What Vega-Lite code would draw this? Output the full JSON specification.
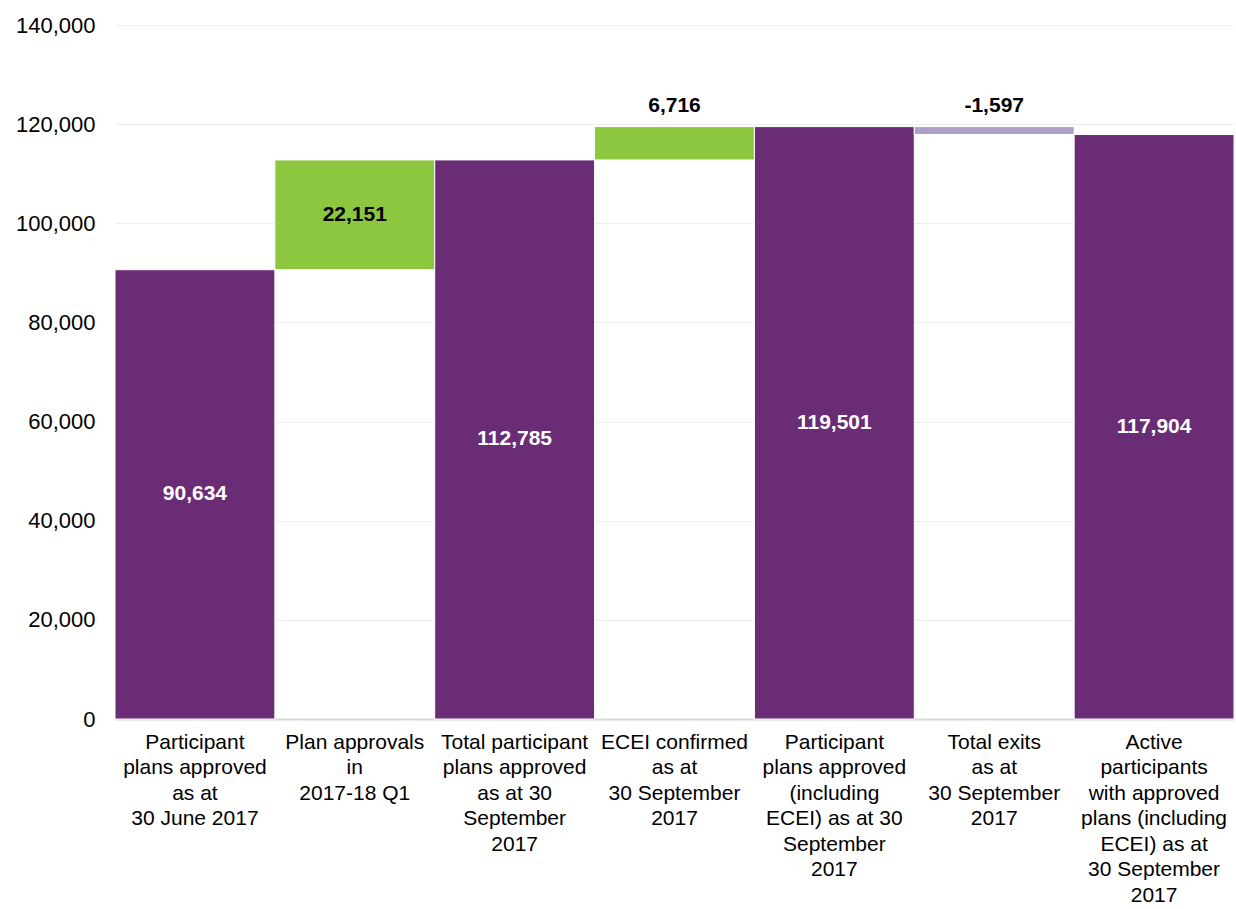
{
  "$schema": "https://vega.github.io/schema/vega-lite/v6.json",
  "autosize": {"type": "none"},
  "padding": {"left": 115, "top": 25, "right": 2, "bottom": 190},
  "width": 1119,
  "height": 694,
  "background": "white",
  "config": {
    "view": {"stroke": null},
    "font": "Liberation Sans",
    "axisY": {
      "title": null,
      "format": ",d",
      "labelFontSize": 22,
      "labelColor": "#000000",
      "labelPadding": 20,
      "ticks": false,
      "domain": false,
      "gridColor": "#eeeeee",
      "gridWidth": 1,
      "labelFont": "Liberation Sans"
    }
  },
  "data": {
    "values": [
      {"cat": "Participant\nplans approved\nas at\n30 June 2017", "start": 0, "end": 90634, "type": "total", "value": 90634},
      {"cat": "Plan approvals\nin\n2017-18 Q1", "start": 90634, "end": 112785, "type": "increase", "value": 22151},
      {"cat": "Total participant\nplans approved\nas at 30\nSeptember\n2017", "start": 0, "end": 112785, "type": "total", "value": 112785},
      {"cat": "ECEI confirmed\nas at\n30 September\n2017", "start": 112785, "end": 119501, "type": "increase", "value": 6716},
      {"cat": "Participant\nplans approved\n(including\nECEI) as at 30\nSeptember\n2017", "start": 0, "end": 119501, "type": "total", "value": 119501},
      {"cat": "Total exits\nas at\n30 September\n2017", "start": 119501, "end": 117904, "type": "decrease", "value": -1597},
      {"cat": "Active\nparticipants\nwith approved\nplans (including\nECEI) as at\n30 September\n2017", "start": 0, "end": 117904, "type": "total", "value": 117904}
    ]
  },
  "transform": [
    {"calculate": "replace(format(datum.value, ','), '\u2212', '-')", "as": "valueText"}
  ],
  "encoding": {
    "x": {
      "field": "cat",
      "type": "nominal",
      "sort": null,
      "scale": {"paddingInner": 0, "paddingOuter": 0},
      "axis": {
        "title": null,
        "labelAngle": 0,
        "labelExpr": "split(datum.label, '\\n')",
        "labelFontSize": 21,
        "labelColor": "#000000",
        "labelLineHeight": 25.5,
        "labelLimit": 0,
        "labelPadding": 12,
        "labelBaseline": "top",
        "ticks": false,
        "domainColor": "#d9d9d9",
        "domainWidth": 2,
        "labelFont": "Liberation Sans"
      }
    }
  },
  "layer": [
    {
      "mark": {"type": "bar", "stroke": "white", "strokeWidth": 1},
      "encoding": {
        "y": {
          "field": "start",
          "type": "quantitative",
          "scale": {"domain": [0, 140000]},
          "axis": {
            "values": [0, 20000, 40000, 60000, 80000, 100000, 120000, 140000],
            "format": ",d"
          }
        },
        "y2": {"field": "end"},
        "color": {
          "field": "type",
          "type": "nominal",
          "scale": {"domain": ["total", "increase", "decrease"], "range": ["#6b2c76", "#8dc63f", "#b09fc9"]},
          "legend": null
        }
      }
    },
    {
      "transform": [
        {"filter": "abs(datum.end - datum.start) > 10000"},
        {"calculate": "(datum.start + datum.end) / 2", "as": "mid"}
      ],
      "mark": {"type": "text", "fontSize": 21, "fontWeight": "bold", "baseline": "middle", "font": "Liberation Sans"},
      "encoding": {
        "y": {"field": "mid", "type": "quantitative"},
        "text": {"field": "valueText", "type": "nominal"},
        "color": {"condition": {"test": "datum.type == 'total'", "value": "white"}, "value": "black"}
      }
    },
    {
      "transform": [
        {"filter": "abs(datum.end - datum.start) <= 10000"},
        {"calculate": "max(datum.start, datum.end)", "as": "top"}
      ],
      "mark": {"type": "text", "fontSize": 21, "fontWeight": "bold", "baseline": "middle", "dy": -21, "color": "black", "font": "Liberation Sans"},
      "encoding": {
        "y": {"field": "top", "type": "quantitative"},
        "text": {"field": "valueText", "type": "nominal"}
      }
    }
  ]
}
